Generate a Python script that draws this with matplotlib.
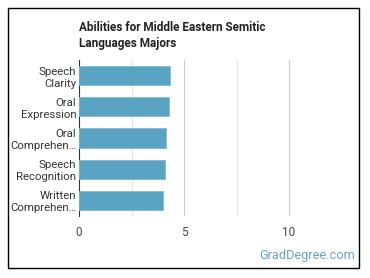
import matplotlib
matplotlib.use("Agg")
import matplotlib.pyplot as plt
from matplotlib.patches import Rectangle

plt.rcParams['font.family'] = ['Roboto', 'DejaVu Sans']

categories = ["Speech\nClarity", "Oral\nExpression", "Oral\nComprehen…", "Speech\nRecognition", "Written\nComprehen…"]
values = [4.35, 4.27, 4.16, 4.11, 4.01]
xticks = [0, 5, 10]

W, H = 370, 278
fig = plt.figure(figsize=(W/100, H/100), dpi=100)
fig.patch.set_facecolor("white")

def fx(px): return px / W
def fy(py): return 1 - py / H

ax = fig.add_axes([fx(79), fy(216), fx(352) - fx(79), fy(60) - fy(216)])
y = list(range(len(categories)))
ax.barh(y, values, height=0.62, color="#5ba3c2", edgecolor="#7fbbd4", linewidth=0.6, zorder=3)
ax.set_ylim(len(categories) - 0.5, -0.5)
ax.set_xlim(0, 13)
ax.set_yticks(y)
ax.set_yticklabels(categories, fontsize=8.2, color="#333333", linespacing=1.25)
ax.set_xticks(xticks)
ax.set_xticklabels([str(t) for t in xticks], fontsize=8.5, color="#444444")
for g in [2.5, 7.5]:
    ax.axvline(g, color="#e6e6e6", linewidth=0.8, zorder=1)
for g in [5, 10]:
    ax.axvline(g, color="#cccccc", linewidth=0.8, zorder=1)
for s in ["top", "right", "bottom"]:
    ax.spines[s].set_visible(False)
ax.spines["left"].set_color("#333333")
ax.spines["left"].set_linewidth(0.8)
ax.tick_params(axis="both", length=0, pad=2)
ax.tick_params(axis="x", pad=7)

fig.text(fx(79), fy(21), "Abilities for Middle Eastern Semitic\nLanguages Majors", fontsize=8.5,
         fontweight="bold", color="#222222", va="top", ha="left", linespacing=1.3)
fig.text(fx(355), fy(255), "GradDegree.com", fontsize=9.2, color="#6aa3c0", ha="right", va="center")

fig.add_artist(Rectangle((fx(8), fy(268)), fx(359) - fx(8), fy(8) - fy(268),
                         transform=fig.transFigure, fill=False, edgecolor="black", linewidth=1))

fig.savefig("out.png", dpi=100)
